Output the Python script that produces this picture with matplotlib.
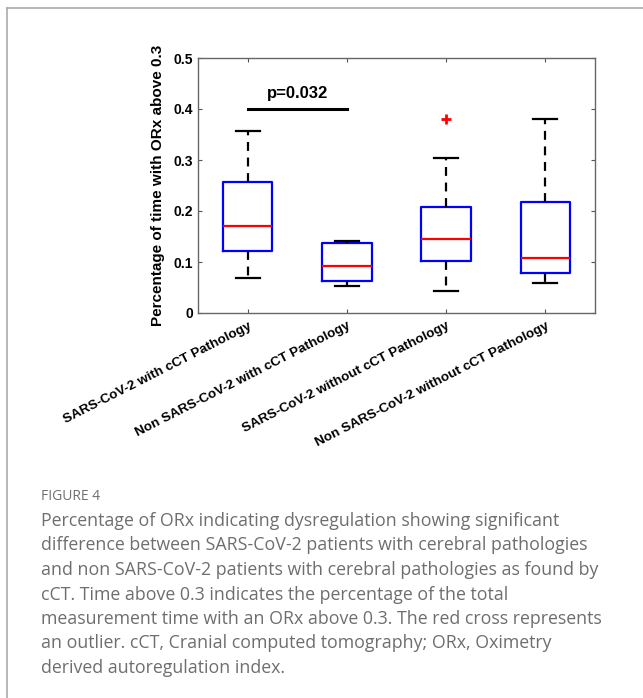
import matplotlib.pyplot as plt
from matplotlib.lines import Line2D

groups = ['SARS-CoV-2 with cCT Pathology',
          'Non SARS-CoV-2 with cCT Pathology',
          'SARS-CoV-2 without cCT Pathology',
          'Non SARS-CoV-2 without cCT Pathology']
whislo = [0.068, 0.052, 0.043, 0.059]
q1 = [0.121, 0.062, 0.102, 0.078]
med = [0.170, 0.092, 0.145, 0.108]
q3 = [0.256, 0.137, 0.207, 0.217]
whishi = [0.357, 0.141, 0.303, 0.380]
fliers = [[], [], [0.380], []]

caption_lines = [
    "Percentage of ORx indicating dysregulation showing significant",
    "difference between SARS-CoV-2 patients with cerebral pathologies",
    "and non SARS-CoV-2 patients with cerebral pathologies as found by",
    "cCT. Time above 0.3 indicates the percentage of the total",
    "measurement time with an ORx above 0.3. The red cross represents",
    "an outlier. cCT, Cranial computed tomography; ORx, Oximetry",
    "derived autoregulation index.",
]

plt.rcParams['font.family'] = ['Liberation Sans', 'DejaVu Sans']

fig = plt.figure(figsize=(6.43, 6.98), dpi=100)
ax = fig.add_axes([198 / 643, 1 - 313 / 698, 397 / 643, 255 / 698])

stats = []
for i in range(len(groups)):
    stats.append(dict(whislo=whislo[i], q1=q1[i], med=med[i], q3=q3[i],
                      whishi=whishi[i], fliers=fliers[i], label=groups[i]))

ax.bxp(stats, positions=[1, 2, 3, 4], widths=0.5, capwidths=0.24,
       boxprops=dict(color='#0000ff', linewidth=1.6),
       medianprops=dict(color='#ff0000', linewidth=1.6),
       whiskerprops=dict(color='black', linewidth=1.6, linestyle=(0, (4, 3))),
       capprops=dict(color='black', linewidth=1.6),
       flierprops=dict(marker='+', markeredgecolor='#ff0000', markersize=7,
                       markeredgewidth=2))

ax.plot([1, 2], [0.4, 0.4], color='black', linewidth=2.2)
ax.text(1.5, 0.416, 'p=0.032', ha='center', va='bottom', fontsize=12,
        fontweight='bold')

ax.set_xlim(0.5, 4.5)
ax.set_ylim(0, 0.5)
ax.set_yticks([0, 0.1, 0.2, 0.3, 0.4, 0.5])
ax.set_yticklabels(['0', '0.1', '0.2', '0.3', '0.4', '0.5'])
ax.set_xticks([1, 2, 3, 4])
ax.set_xticklabels(groups, rotation=27, ha='right', rotation_mode='anchor')
ax.tick_params(direction='in', top=True, right=True, length=3, width=0.8,
               labelsize=10, color='#555555')
ax.tick_params(axis='x', labelsize=9.7, pad=5)
for lbl in ax.get_xticklabels() + ax.get_yticklabels():
    lbl.set_fontweight('bold')
for sp in ax.spines.values():
    sp.set_color('#666666')
    sp.set_linewidth(1.0)
ax.set_ylabel('Percentage of time with ORx above 0.3', fontsize=11,
              fontweight='bold', labelpad=6)

fig.add_artist(Line2D([7 / 643, 7 / 643], [0, 1 - 7.5 / 698],
                      color='#aaaaaa', linewidth=1.2))
fig.add_artist(Line2D([7 / 643, 1], [1 - 7.5 / 698, 1 - 7.5 / 698],
                      color='#aaaaaa', linewidth=1.2))

fig.text(41 / 643, 1 - 496 / 698, 'FIGURE 4', fontsize=10, color='#707070',
         family=['Open Sans', 'DejaVu Sans'], va='center')
for k, line in enumerate(caption_lines):
    fig.text(41 / 643, 1 - (521 + 24.5 * k) / 698, line, fontsize=12.8,
             color='#6e6e6e', family=['Open Sans', 'DejaVu Sans'],
             va='center')

fig.savefig('out.png', dpi=100)
